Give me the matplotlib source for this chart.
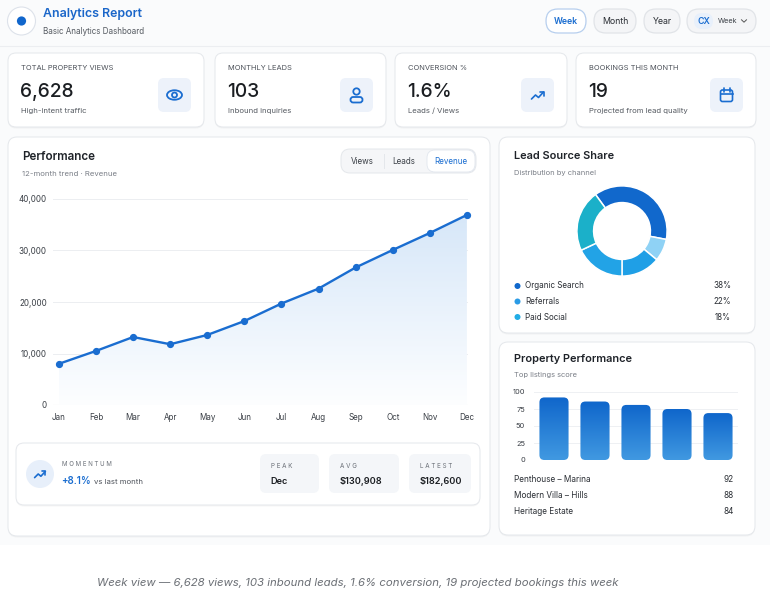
import numpy as np
import matplotlib

matplotlib.use("Agg")

import matplotlib.pyplot as plt
from matplotlib.patches import FancyBboxPatch, Circle, Ellipse, Rectangle
from matplotlib.colors import LinearSegmentedColormap

plt.rcParams["font.family"] = ["Inter", "DejaVu Sans"]

W, H = 770, 595

# ---- data ----
kpi_labels = ["TOTAL PROPERTY VIEWS", "MONTHLY LEADS", "CONVERSION %", "BOOKINGS THIS MONTH"]
kpi_values = ["6,628", "103", "1.6%", "19"]
kpi_notes = ["High-intent traffic", "Inbound inquiries", "Leads / Views", "Projected from lead quality"]

months = ["Jan", "Feb", "Mar", "Apr", "May", "Jun", "Jul", "Aug", "Sep", "Oct", "Nov", "Dec"]
revenue = [8000, 10500, 13200, 11800, 13600, 16300, 19700, 22600, 26700, 30100, 33400, 36900]
revenue_ticks = [0, 10000, 20000, 30000, 40000]

share_values = [38, 8, 14, 18, 22]
share_colors = ["#1168cc", "#8fd2f5", "#1f9fe6", "#22a3e6", "#1bb0c9"]
legend_labels = ["Organic Search", "Referrals", "Paid Social"]
legend_pcts = ["38%", "22%", "18%"]
legend_colors = ["#1168cc", "#2a9be6", "#22ade6"]

listing_scores = [92, 86, 81, 75, 69]
score_ticks = [0, 25, 50, 75, 100]
top_names = ["Penthouse – Marina", "Modern Villa – Hills", "Heritage Estate"]
top_scores = ["92", "88", "84"]

stat_labels = ["PEAK", "AVG", "LATEST"]
stat_values = ["Dec", "$130,908", "$182,600"]

periods = ["Week", "Month", "Year"]
metric_tabs = ["Views", "Leads", "Revenue"]

caption = "Week view — 6,628 views, 103 inbound leads, 1.6% conversion, 19 projected bookings this week"

BLUE = "#1a6dd0"
DARK = "#1f2329"
GREY = "#6b7078"
BORDER = "#e4e7eb"


def box(x0, y0, x1, y1):
    return [x0 / W, 1 - y1 / H, (x1 - x0) / W, (y1 - y0) / H]


fig = plt.figure(figsize=(W / 100, H / 100), dpi=100, facecolor="#fafbfc")
bg = fig.add_axes([0, 0, 1, 1])
bg.set_xlim(0, W)
bg.set_ylim(H, 0)
bg.axis("off")


def rbox(x0, y0, x1, y1, r=7, fc="white", ec=BORDER, lw=0.7, z=1, shadow=True):
    style = "round,pad=0,rounding_size=%s" % r
    if shadow:
        bg.add_patch(FancyBboxPatch((x0, y0 + 1.5), x1 - x0, y1 - y0, boxstyle=style,
                                    fc="black", ec="none", alpha=0.035, zorder=z - 0.1))
    bg.add_patch(FancyBboxPatch((x0, y0), x1 - x0, y1 - y0, boxstyle=style,
                                fc=fc, ec=ec, lw=lw, zorder=z))


def txt(x, y, s, size, color=DARK, weight="normal", ha="left", va="center", **kw):
    bg.text(x, y, s, fontsize=size, color=color, fontweight=weight, ha=ha, va=va,
            zorder=5, **kw)


def trend_icon(cx, cy, s=1.0):
    xs = np.array([-6, -2, 1, 6]) * s + cx
    ys = np.array([4, 0, 2.5, -3]) * s + cy
    bg.plot(xs, ys, color=BLUE, lw=1.2, solid_capstyle="round", solid_joinstyle="round", zorder=6)
    bg.plot(np.array([2.2, 6, 6]) * s + cx, np.array([-3, -3, 0.8]) * s + cy, color=BLUE,
            lw=1.2, solid_capstyle="round", solid_joinstyle="round", zorder=6)


# bottom caption area is plain white
bg.add_patch(Rectangle((0, 545), W, H - 545, fc="white", ec="none", zorder=0))

# ---- header ----
bg.add_patch(Circle((21.5, 21), 14, fc="white", ec="#dde2ea", lw=0.8, zorder=2))
bg.add_patch(Circle((21.5, 21), 4.6, fc="#1166cc", ec="none", zorder=3))
txt(43, 14, "Analytics Report", 8.9, color="#1a66c9", weight="semibold")
txt(43, 32, "Basic Analytics Dashboard", 5.8, color="#555a61")
bg.plot([0, W], [46, 46], color="#eceef1", lw=0.8, zorder=1)

pill_x = [(546, 586), (594, 636), (644, 680)]
for (x0, x1), name in zip(pill_x, periods):
    active = name == "Week"
    rbox(x0, 9, x1, 33, r=12, fc="white" if active else "#f4f5f7",
         ec="#b7cfee" if active else "#e1e4e8", lw=0.9, shadow=False)
    txt((x0 + x1) / 2, 21, name, 6.3, color=BLUE if active else "#2b2f35",
        weight="semibold" if active else "normal", ha="center")
rbox(687, 9, 756, 33, r=12, fc="#f4f5f7", ec="#e1e4e8", lw=0.9, shadow=False)
rbox(694, 13, 713, 29, r=8, fc="#e8f0fb", ec="none", shadow=False, z=2)
txt(703.5, 21, "CX", 6.3, color=BLUE, weight="semibold", ha="center")
txt(728, 21, "Week", 5.2, color="#3a3f46", ha="center")
bg.plot([741.5, 744, 746.5], [19.8, 22.2, 19.8], color="#555", lw=0.7, zorder=5)

# ---- KPI cards ----
card_x = [(8, 204), (215, 386), (395, 567), (576, 756)]
for i, ((x0, x1), lab, val, note) in enumerate(zip(card_x, kpi_labels, kpi_values, kpi_notes)):
    rbox(x0, 53, x1, 127, r=8)
    txt(x0 + 13, 68.5, lab, 5.4, color="#4d525a")
    txt(x0 + 12, 92, val, 13.8, color="#1b1e22", weight="medium")
    txt(x0 + 13, 111, note, 5.6, color="#555a61")
    rbox(x1 - 46, 78, x1 - 13, 112, r=6, fc="#edf2fa", ec="none", shadow=False, z=2)
    cx, cy = x1 - 29.5, 95
    if i == 0:
        bg.add_patch(Ellipse((cx, cy), 15, 9.5, fc="none", ec=BLUE, lw=1.3, zorder=6))
        bg.add_patch(Circle((cx, cy), 2.5, fc="none", ec=BLUE, lw=1.3, zorder=6))
    elif i == 1:
        bg.add_patch(Circle((cx, cy - 3.5), 3.2, fc="none", ec=BLUE, lw=1.3, zorder=6))
        bg.add_patch(FancyBboxPatch((cx - 6, cy + 2), 12, 5.5, boxstyle="round,pad=0,rounding_size=2.7",
                                    fc="none", ec=BLUE, lw=1.3, zorder=6))
    elif i == 2:
        trend_icon(cx, cy)
    else:
        bg.add_patch(FancyBboxPatch((cx - 6, cy - 5), 12, 11.5, boxstyle="round,pad=0,rounding_size=2",
                                    fc="none", ec=BLUE, lw=1.2, zorder=6))
        bg.plot([cx - 6, cx + 6], [cy - 1, cy - 1], color=BLUE, lw=1.2, zorder=6)
        for dx in (-3, 3):
            bg.plot([cx + dx, cx + dx], [cy - 7.5, cy - 3.5], color=BLUE, lw=1.2,
                    solid_capstyle="round", zorder=6)

# ---- performance panel ----
rbox(8, 137, 490, 536, r=9)
txt(22, 157, "Performance", 8.4, weight="semibold")
txt(22, 174.5, "12-month trend · Revenue", 5.6, color="#7a7f87")
rbox(341, 149, 476, 173, r=9, fc="#f5f6f8", ec="#e4e7eb", lw=0.7, shadow=False)
rbox(427, 150, 475, 172, r=8, fc="white", ec="#e1e6ee", lw=0.6, shadow=False, z=2)
bg.plot([384, 384], [154, 168], color="#e4e7eb", lw=0.7, zorder=2)
for cx, name in zip([362, 404, 450.5], metric_tabs):
    txt(cx, 161, name, 5.8, color=BLUE if name == "Revenue" else "#3a3f46", ha="center")

ax = fig.add_axes(box(53, 199, 468, 405))
ax.patch.set_alpha(0)
x = np.arange(len(months))
fill = ax.fill_between(x, revenue, 0, color="none")
fill_cmap = LinearSegmentedColormap.from_list("fill", ["#fdfeff", "#d3e5f8"])
grad = np.linspace(0, 1, 256).reshape(-1, 1)
im = ax.imshow(grad, extent=(0, 11, 0, 40000), origin="lower", aspect="auto",
               cmap=fill_cmap, zorder=2)
im.set_clip_path(fill.get_paths()[0], transform=ax.transData)
ax.plot(x, revenue, color=BLUE, lw=1.7, marker="o", ms=4.2, zorder=4, clip_on=False)
ax.set_xlim(-0.16, 11.03)
ax.set_ylim(0, 40000)
ax.set_yticks(revenue_ticks)
ax.set_yticklabels(["{:,}".format(v) for v in revenue_ticks])
ax.set_xticks(x)
ax.set_xticklabels(months)
ax.tick_params(length=0, labelsize=5.8, labelcolor="#3a3f46")
ax.tick_params(axis="y", pad=4.5)
ax.tick_params(axis="x", pad=5.5)
ax.grid(axis="y", color="#eceef1", lw=0.7)
ax.set_axisbelow(True)
for sp in ax.spines.values():
    sp.set_visible(False)
ax.axhline(0, color="#e2e5e9", lw=0.8, zorder=1)

# momentum strip
rbox(16, 443, 480, 505, r=8, shadow=True, z=2)
bg.add_patch(Circle((40, 474), 14, fc="#e7effa", ec="none", zorder=3))
trend_icon(40, 474, 0.9)
txt(62, 464, "M O M E N T U M", 4.4, color="#6b7078")
txt(61.5, 481, "+8.1%", 7.0, color=BLUE, weight="semibold")
txt(94, 481.5, "vs last month", 5.6, color="#4d525a")
stat_x = [(260, 319), (329, 399), (409, 471)]
for (x0, x1), lab, val in zip(stat_x, stat_labels, stat_values):
    rbox(x0, 454, x1, 493, r=6, fc="#f4f6f9", ec="none", shadow=False, z=3)
    txt(x0 + 11, 466, " ".join(lab), 4.5, color="#6b7078")
    txt(x0 + 10.5, 482, val, 6.6, color="#1b1e22", weight="semibold")

# ---- lead source panel ----
rbox(499, 137, 755, 333, r=9)
txt(514, 156, "Lead Source Share", 7.9, weight="semibold")
txt(514, 173, "Distribution by channel", 5.4, color="#7a7f87")
dax = fig.add_axes(box(576, 185, 668, 277))
dax.pie(share_values, colors=share_colors, startangle=126, counterclock=False, radius=1,
        wedgeprops=dict(width=0.37, edgecolor="white", linewidth=1.1))
dax.set_xlim(-1.02, 1.02)
dax.set_ylim(-1.02, 1.02)
dax.set_aspect("equal")
dax.axis("off")
for yy, lab, pct, col in zip([286, 301.5, 317], legend_labels, legend_pcts, legend_colors):
    bg.add_patch(Circle((517.5, yy), 3, fc=col, ec="none", zorder=5))
    txt(525, yy, lab, 5.8, color="#2b2f35")
    txt(731, yy, pct, 5.8, color="#2b2f35", ha="right")

# ---- property performance panel ----
rbox(499, 342, 755, 535, r=9)
txt(514, 359, "Property Performance", 7.9, weight="semibold")
txt(514, 375.5, "Top listings score", 5.4, color="#7a7f87")
bx0, by0, bx1, by1 = 533.5, 392, 738.5, 460
bax = fig.add_axes(box(bx0, by0, bx1, by1))
bax.patch.set_alpha(0)
bax.set_xlim(-0.5, len(listing_scores) - 0.5)
bax.set_ylim(0, 100)
bar_w = 0.71
bars = bax.bar(np.arange(len(listing_scores)), listing_scores, width=bar_w, color="none")
aspect = ((bx1 - bx0) / len(listing_scores)) / ((by1 - by0) / 100)
bar_cmap = LinearSegmentedColormap.from_list("bars", ["#4199e1", "#0f66cb"])
for rect in bars:
    x0, h = rect.get_x(), rect.get_height()
    patch = FancyBboxPatch((x0, 0), bar_w, h, boxstyle="round,pad=0,rounding_size=0.12",
                           mutation_aspect=aspect, fc="none", ec="none")
    bax.add_patch(patch)
    bim = bax.imshow(grad, extent=(x0, x0 + bar_w, 0, h), origin="lower", aspect="auto",
                     cmap=bar_cmap, zorder=3)
    bim.set_clip_path(patch)
bax.set_xlim(-0.5, len(listing_scores) - 0.5)
bax.set_ylim(0, 100)
bax.set_yticks(score_ticks)
bax.set_xticks([])
bax.tick_params(length=0, labelsize=5.4, labelcolor="#3a3f46", pad=6)
bax.grid(axis="y", color="#eef0f3", lw=0.7)
bax.set_axisbelow(True)
for sp in bax.spines.values():
    sp.set_visible(False)
for yy, name, sc in zip([480, 496, 511], top_names, top_scores):
    txt(514, yy, name, 5.9, color="#2b2f35")
    txt(734, yy, sc, 5.9, color="#2b2f35", ha="right")

# ---- caption ----
txt(358, 583, caption, 8.2, color="#6b6f75", ha="center", style="italic")

fig.savefig("out.png", dpi=100, facecolor=fig.get_facecolor())
